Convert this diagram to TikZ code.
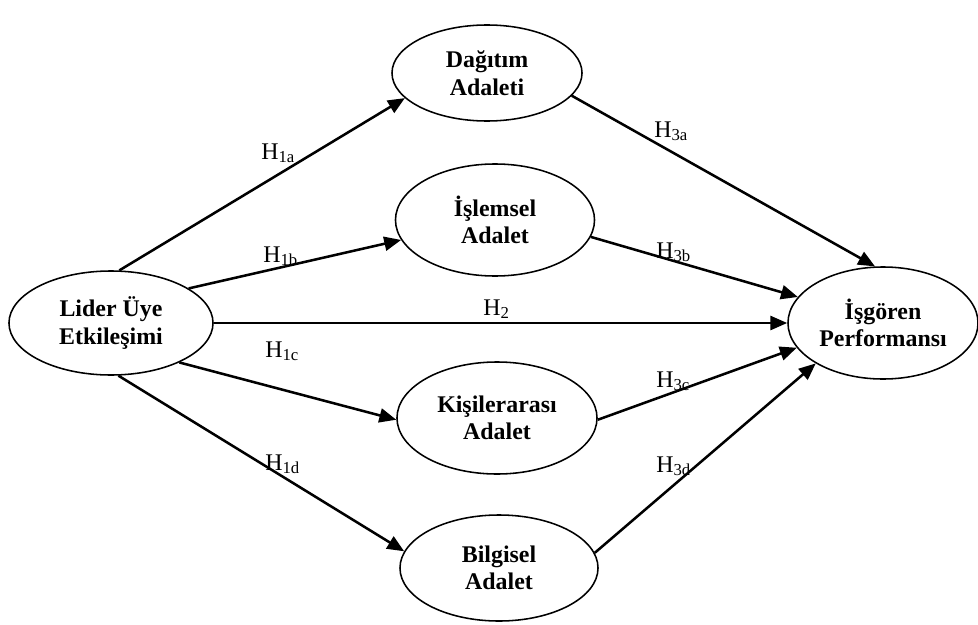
\documentclass[tikz,border=0pt]{standalone}
\usepackage{fontspec}
\setmainfont{Liberation Serif}
\usetikzlibrary{arrows.meta}
\usetikzlibrary{shapes.geometric}
\tikzset{>={Triangle[length=12pt, width=10pt]}}
\tikzstyle{var} = [ellipse, draw, line width = 1.1pt, inner sep = 0, align = center, font = \fontsize{17}{19.5}\selectfont\bfseries]
\tikzstyle{hyp} = [->, line width = 1.8pt]
\tikzstyle{lbl} = [draw = none, inner sep = 0, anchor = base west, font = \fontsize{17}{20}\selectfont]

\begin{document}
\begin{tikzpicture}[x = 0.025cm, y = -0.025cm]
\useasboundingbox (0, 0) rectangle (978, 624);
% variables
\node [var, minimum width = 5.1cm, minimum height = 2.6cm] (LUE) at (111, 323) {Lider Üye\\Etkileşimi};
\node [var, minimum width = 4.75cm, minimum height = 2.4cm] (DA) at (487, 73) {Dağıtım\\Adaleti};
\node [var, minimum width = 4.975cm, minimum height = 2.8cm] (IA) at (495, 220) {İşlemsel\\Adalet};
\node [var, minimum width = 5cm, minimum height = 2.8cm] (KA) at (497, 418) {Kişilerarası\\Adalet};
\node [var, minimum width = 4.95cm, minimum height = 2.65cm] (BA) at (499, 568) {Bilgisel\\Adalet};
\node [var, minimum width = 4.75cm, minimum height = 2.8cm] (IP) at (883, 323) {İşgören\\Performansı};
% hypotheses
\draw [hyp] (LUE.81) to (DA.197);
\draw [hyp] (LUE.24) to (IA.192);
\draw [hyp] (LUE) to (IP);
\draw [hyp] (LUE.-30) to (KA.181);
\draw [hyp] (LUE.-82) to (BA.170);
\draw [hyp] (DA.-15) to (IP.98);
\draw [hyp] (IA.-10) to (IP.163);
\draw [hyp] (KA.-1) to (IP.196);
\draw [hyp] (BA.9) to (IP.211);
% labels
\node [lbl] (h1a) at (261, 159) {H\textsubscript{1a}};
\node [lbl] (h1b) at (263, 262) {H\textsubscript{1b}};
\node [lbl] (h2) at (483, 315) {H\textsubscript{2}};
\node [lbl] (h1c) at (265, 357) {H\textsubscript{1c}};
\node [lbl] (h1d) at (265, 470) {H\textsubscript{1d}};
\node [lbl] (h3a) at (654, 137) {H\textsubscript{3a}};
\node [lbl] (h3b) at (656, 258) {H\textsubscript{3b}};
\node [lbl] (h3c) at (656, 387) {H\textsubscript{3c}};
\node [lbl] (h3d) at (656, 472) {H\textsubscript{3d}};
\end{tikzpicture}
\end{document}
